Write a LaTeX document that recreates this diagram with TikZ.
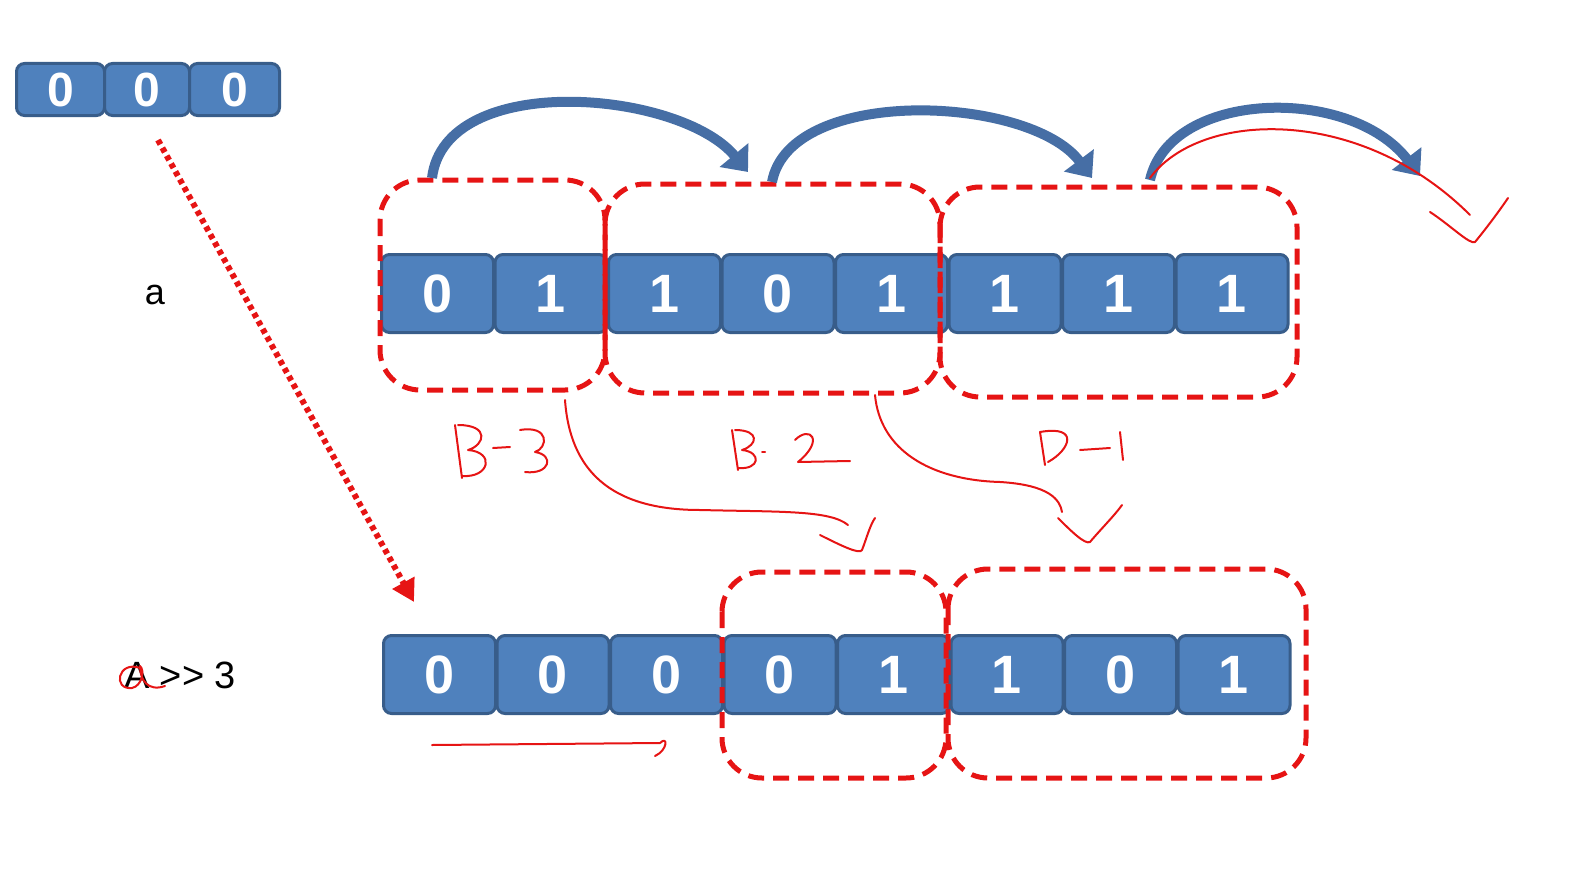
\documentclass[tikz,border=0pt]{standalone}
\usepackage{fontspec}
\setmainfont{Liberation Sans}
\usetikzlibrary{arrows.meta}
\definecolor{cellblue}{RGB}{79,129,189}
\definecolor{celledge}{RGB}{56,93,138}
\definecolor{arrowblue}{RGB}{70,110,165}
\definecolor{pen}{RGB}{230,20,20}
\tikzset{
 cell/.style={draw=celledge,line width=3pt,fill=cellblue,rounded corners=8pt,minimum height=78pt,text=white,font=\fontsize{54}{54}\selectfont\bfseries,inner sep=0pt},
 grp/.style={draw=pen,line width=5pt,dash pattern=on 16pt off 9pt,rounded corners=40pt},
 bigarrow/.style={draw=arrowblue,line width=10pt,-{Triangle[length=22pt,width=36pt]}},
 ink/.style={draw=pen,line width=2pt,line cap=round,line join=round},
}
\begin{document}
\begin{tikzpicture}[x=1pt,y=-1pt]
\useasboundingbox (0,0) rectangle (1577,891);
% top-left small a
\foreach \i/\x/\w in {1/15/88,2/103/85,3/188/90}{
 \node[cell,minimum width=\w pt,minimum height=52pt,font=\fontsize{48}{48}\selectfont\bfseries,anchor=north west] (s\i) at (\x,62) {0};}
% row 1
\foreach \i/\v in {1/0,2/1,3/1,4/0,5/1,6/1,7/1,8/1}{
 \node[cell,minimum width=112pt,anchor=north west] (a\i) at ({380+113.5*(\i-1)},253) {\v};}
% row 2
\foreach \i/\v in {1/0,2/0,3/0,4/0,5/1,6/1,7/0,8/1}{
 \node[cell,minimum width=112pt,anchor=north west] (b\i) at ({382+113.5*(\i-1)},634) {\v};}
% dashed groups
\draw[grp] (380,180) rectangle (605,390);
\draw[grp] (605,184) rectangle (940,393);
\draw[grp] (940,187) rectangle (1297,397);
\draw[grp] (722,572) rectangle (946,778);
\draw[grp] (948,569) rectangle (1306,778);
% blue arcs
\coordinate (c1) at (432,178); \coordinate (c2) at (748,172);
\coordinate (c3) at (772,182); \coordinate (c4) at (1092,178);
\coordinate (c5) at (1150,180); \coordinate (c6) at (1420,176);
\draw[bigarrow] (c1) .. controls (445,70) and (680,90) .. (c2);
\draw[bigarrow] (c3) .. controls (790,85) and (1030,95) .. (c4);
\draw[bigarrow] (c5) .. controls (1170,90) and (1350,85) .. (c6);
% dotted arrow
\coordinate (d1) at (158,140); \coordinate (d2) at (414,602);
\draw[pen,line width=6pt,dash pattern=on 5pt off 4pt,-{Triangle[length=22pt,width=24pt]}] (d1) -- (d2);
% texts
\node[font=\fontsize{36}{36}\selectfont] (ta) at (155,295) {a};
\node[font=\fontsize{38}{38}\selectfont] (tb) at (180,675) {A {>}{>} 3};
\draw[ink] (140,668) .. controls (118,660) and (112,690) .. (132,688) .. controls (142,686) and (145,670) .. (140,666) .. controls (140,680) and (148,692) .. (165,686);
% handwritten labels
\draw[ink] (455,425) -- (462,478);
\draw[ink] (458,425) .. controls (490,425) and (485,445) .. (468,450) .. controls (495,452) and (490,478) .. (462,476);
\draw[ink] (493,448) -- (510,447);
\draw[ink] (520,430) .. controls (550,425) and (548,448) .. (535,452) .. controls (555,455) and (550,475) .. (525,472);
\draw[ink] (732,430) -- (738,470);
\draw[ink] (735,430) .. controls (760,430) and (758,445) .. (742,450) .. controls (762,452) and (760,470) .. (738,468);
\draw[ink] (762,452) -- (765,452);
\draw[ink] (795,440) .. controls (810,425) and (825,440) .. (798,462) -- (850,461);
\draw[ink] (1040,432) -- (1045,465);
\draw[ink] (1040,432) .. controls (1080,425) and (1070,450) .. (1048,462);
\draw[ink] (1080,450) -- (1110,448);
\draw[ink] (1120,432) -- (1123,460);
% red freehand arrows
\draw[ink] (565,400) .. controls (570,470) and (610,510) .. (700,510) .. controls (780,512) and (830,510) .. (848,525);
\draw[ink] (820,535) .. controls (840,545) and (860,555) .. (862,550) .. controls (866,540) and (870,525) .. (875,518);
\draw[ink] (875,395) .. controls (880,450) and (930,480) .. (1000,482) .. controls (1050,485) and (1060,500) .. (1062,512);
\draw[ink] (1058,518) .. controls (1070,530) and (1085,545) .. (1090,542) .. controls (1100,530) and (1115,515) .. (1122,505);
\draw[ink] (1150,178) .. controls (1200,110) and (1360,105) .. (1470,215);
\draw[ink] (1430,212) .. controls (1450,225) and (1470,245) .. (1475,242) .. controls (1485,230) and (1500,210) .. (1508,198);
\draw[ink] (432,745) -- (660,743) .. controls (668,735) and (668,750) .. (655,756);
\end{tikzpicture}
\end{document}
